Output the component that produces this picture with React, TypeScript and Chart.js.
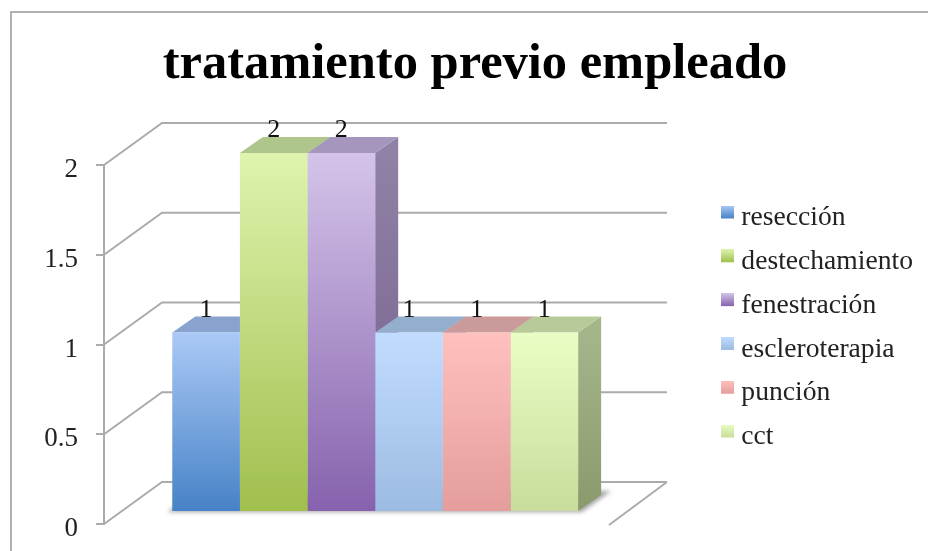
import { useEffect, useRef } from "react";
import { Chart, registerables } from "chart.js";

Chart.register(...registerables);

const chartTitle = "tratamiento previo empleado";
const categories = ["tratamiento previo"];
const seriesNames = ["resección", "destechamiento", "fenestración", "escleroterapia", "punción", "cct"];
const seriesValues = [1, 2, 2, 1, 1, 1];
const yTicks = { min: 0, max: 2, step: 0.5 };

// Face colours per series: front gradient (light, dark), top face, side gradient (light, dark)
const frontLight = ["#abc9f6", "#ddf4ae", "#d4c4e9", "#c1dcff", "#ffc0be", "#e8fec4"];
const frontDark = ["#4682c6", "#a0bf4d", "#8662ad", "#9cbbe2", "#e49d9b", "#c8dc9b"];
const topFace = ["#88a4ce", "#aec68c", "#a496bc", "#94aece", "#cb9a9a", "#b8ca9a"];
const sideLight = ["#7f97bd", "#a0b580", "#8f82a6", "#8aa0c0", "#bb8e8e", "#a4b58a"];
const sideDark = ["#4e6c92", "#78904a", "#765c8c", "#7890ae", "#a47c7c", "#8a9a6c"];

const GRID = "#ababab";
const FONT = "'Liberation Serif', 'DejaVu Serif', serif";

// Oblique projection of the 3D box
const WALL = { dx: 58, dy: 42, right: 667 };
const BAR_SHIFT = { x: -32, y: -12 };
const BAR_DEPTH = { dx: 23, dy: 16 };
const LEGEND_LIFT = 17;

// Legend key: gradient square sitting in the upper part of a taller transparent canvas
function swatch(i: number) {
  const c = document.createElement("canvas");
  c.width = 13;
  c.height = 25;
  const g = c.getContext("2d")!;
  const grad = g.createLinearGradient(0, 0, 0, 13);
  grad.addColorStop(0, frontLight[i]);
  grad.addColorStop(1, frontDark[i]);
  g.fillStyle = grad;
  g.fillRect(0, 0, 13, 13);
  return c;
}

function poly(ctx: CanvasRenderingContext2D, pts: number[][], fill: string | CanvasGradient) {
  ctx.beginPath();
  pts.forEach(([x, y], k) => (k ? ctx.lineTo(x, y) : ctx.moveTo(x, y)));
  ctx.closePath();
  ctx.fillStyle = fill;
  ctx.fill();
}

const box3d = {
  id: "box3d",
  afterLayout(chart: any) {
    chart.legend.top -= LEGEND_LIFT;
    chart.legend.bottom -= LEGEND_LIFT;
  },
  beforeDraw(chart: any) {
    // Outer frame of the chart: its right and bottom edges lie off the canvas
    const ctx = chart.ctx as CanvasRenderingContext2D;
    ctx.save();
    ctx.strokeStyle = "#b0b0b0";
    ctx.lineWidth = 2;
    ctx.strokeRect(11, 12, 960, 600);
    ctx.restore();
  },
  beforeDatasetsDraw(chart: any) {
    const ctx = chart.ctx as CanvasRenderingContext2D;
    const y = chart.scales.y;
    const x0 = chart.chartArea.left;

    // Side wall and back wall lines for every tick
    ctx.save();
    ctx.strokeStyle = GRID;
    ctx.lineWidth = 2;
    y.ticks.forEach((t: any) => {
      const py = y.getPixelForValue(t.value);
      ctx.beginPath();
      ctx.moveTo(x0, py);
      ctx.lineTo(x0 + WALL.dx, py - WALL.dy);
      ctx.lineTo(WALL.right, py - WALL.dy);
      ctx.stroke();
    });
    // Front edge of the floor on the right
    const p0 = y.getPixelForValue(0);
    ctx.beginPath();
    ctx.moveTo(WALL.right, p0 - WALL.dy);
    ctx.lineTo(WALL.right - WALL.dx, p0 + 1);
    ctx.stroke();

    ctx.translate(BAR_SHIFT.x, BAR_SHIFT.y);

    const bars = seriesValues.map((_, i) =>
      chart.getDatasetMeta(i).data[0].getProps(["x", "y", "base", "width"], true)
    );

    // Soft floor shadow beneath the row of bars
    const first = bars[0];
    const last = bars[bars.length - 1];
    const left = first.x - first.width / 2;
    const right = last.x + last.width / 2;
    const base = first.base;
    ctx.save();
    ctx.filter = "blur(2px)";
    poly(
      ctx,
      [
        [left - 5, base + 1],
        [right + 4, base + 1],
        [right + 33, base - 20],
        [left + BAR_DEPTH.dx, base - 20],
      ],
      "rgba(90,90,90,0.55)"
    );
    ctx.restore();

    // Side then top face of each bar, from left to right
    bars.forEach((b: any, i: number) => {
      const l = b.x - b.width / 2;
      const r = b.x + b.width / 2;
      const grad = ctx.createLinearGradient(0, b.y, 0, b.base);
      grad.addColorStop(0, sideLight[i]);
      grad.addColorStop(1, sideDark[i]);
      poly(
        ctx,
        [
          [r, b.y],
          [r + BAR_DEPTH.dx, b.y - BAR_DEPTH.dy],
          [r + BAR_DEPTH.dx, b.base - BAR_DEPTH.dy],
          [r, b.base],
        ],
        grad
      );
      poly(
        ctx,
        [
          [l, b.y],
          [l + BAR_DEPTH.dx, b.y - BAR_DEPTH.dy],
          [r + BAR_DEPTH.dx, b.y - BAR_DEPTH.dy],
          [r, b.y],
        ],
        topFace[i]
      );
    });
    // The translation stays active for the front faces and is undone afterwards
  },
  afterDatasetsDraw(chart: any) {
    const ctx = chart.ctx as CanvasRenderingContext2D;
    // Value labels above the bars, still in the shifted space
    ctx.fillStyle = "#111";
    ctx.font = `26px ${FONT}`;
    ctx.textAlign = "center";
    ctx.textBaseline = "alphabetic";
    seriesValues.forEach((v, i) => {
      const b = chart.getDatasetMeta(i).data[0];
      ctx.fillText(String(v), b.x, b.y - 16);
    });
    ctx.restore();
  },
};

export default function App() {
  const ref = useRef<HTMLCanvasElement>(null);

  useEffect(() => {
    const chart = new Chart(ref.current!, {
      type: "bar",
      data: {
        labels: categories,
        datasets: seriesNames.map((label, i) => ({
          label,
          data: [seriesValues[i]],
          borderWidth: 0,
          backgroundColor: (c: any) => {
            const y = c.chart.scales.y;
            const grad = c.chart.ctx.createLinearGradient(
              0,
              y.getPixelForValue(seriesValues[i]),
              0,
              y.getPixelForValue(0)
            );
            grad.addColorStop(0, frontLight[i]);
            grad.addColorStop(1, frontDark[i]);
            return grad;
          },
        })),
      },
      options: {
        responsive: false,
        animation: false,
        layout: { padding: { left: 27, right: 5, top: 0, bottom: 27 } },
        datasets: { bar: { categoryPercentage: 0.6693, barPercentage: 1 } },
        scales: {
          x: { display: false },
          y: {
            min: yTicks.min,
            max: yTicks.max,
            afterFit: (s: any) => {
              s.width = 77;
              s.paddingTop = 0;
              s.paddingBottom = 0;
            },
            ticks: {
              stepSize: yTicks.step,
              padding: 18,
              labelOffset: 5,
              color: "#222",
              font: { family: FONT, size: 27 },
              callback: (v: any) => String(v),
            },
            grid: { drawOnChartArea: false, color: GRID, lineWidth: 2, tickLength: 8 },
            border: { color: GRID, width: 2 },
          },
        },
        plugins: {
          tooltip: { enabled: false },
          title: {
            display: true,
            text: chartTitle,
            color: "#000",
            font: { family: FONT, size: 50.5, weight: "bold", lineHeight: 1.2 },
            padding: { top: 35, bottom: 69.4 },
          },
          legend: {
            position: "right",
            fullSize: false,
            labels: {
              usePointStyle: true,
              pointStyleWidth: 1,
              boxHeight: 13,
              padding: 16.2,
              color: "#222",
              font: { family: FONT, size: 27.6 },
              generateLabels: () =>
                seriesNames.map((text, i) => ({
                  text,
                  datasetIndex: i,
                  pointStyle: swatch(i),
                  fontColor: "#222",
                })),
            },
          },
        },
      },
      plugins: [box3d],
    } as any);
    return () => chart.destroy();
  }, []);

  return (
    <canvas
      ref={ref}
      width={928}
      height={551}
      style={{ position: "fixed", left: 0, top: 0, width: 928, height: 551, display: "block" }}
    />
  );
}
